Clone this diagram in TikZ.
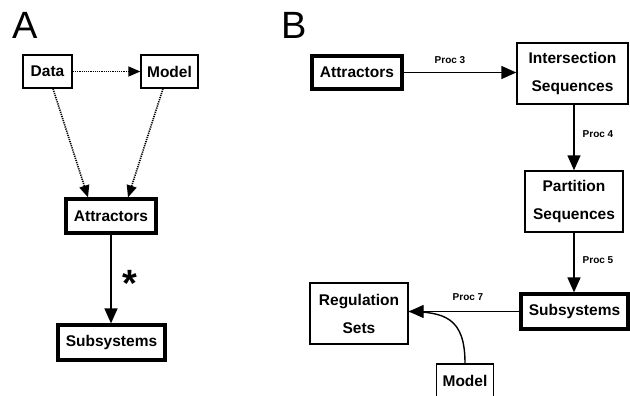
\documentclass[tikz,border=0pt]{standalone}
\usepackage{fontspec}
\setmainfont{Liberation Sans}
\usetikzlibrary{arrows.meta}
\tikzset{
  box/.style={draw, line width=1.4pt, inner sep=0pt, align=center,
    font=\fontsize{15.5}{28}\selectfont\bfseries},
  thickbox/.style={box, line width=3.2pt},
  arr/.style={line width=1.4pt, -{Triangle[length=15pt,width=13pt]}},
  dotarr/.style={line width=1.6pt, dash pattern=on 1.2pt off 1pt, -{Triangle[length=12pt,width=10pt]}},
  proc/.style={font=\fontsize{10}{12}\selectfont\bfseries, inner sep=0pt},
  panel/.style={font=\fontsize{38}{40}\selectfont, inner sep=0pt, anchor=base west}
}
\begin{document}
\begin{tikzpicture}[x=1pt,y=-1pt]
\useasboundingbox (0,0) rectangle (630,396);
% Panel A
\node[panel] (lA) at (12,39) {A};
\node[box, minimum width=49pt, minimum height=33pt] (data) at (47.5,71.5) {Data};
\node[box, minimum width=57pt, minimum height=33pt] (modelA) at (169.5,71.5) {Model};
\node[thickbox, minimum width=90pt, minimum height=34pt] (attrA) at (111,216) {Attractors};
\node[thickbox, minimum width=107pt, minimum height=35pt] (subA) at (111.5,342.5) {Subsystems};
\draw[dotarr] (data.east) -- (modelA.west);
\draw[dotarr] ([xshift=5.5pt]data.south) -- ([xshift=-23pt]attrA.north);
\draw[dotarr] ([xshift=-6.5pt]modelA.south) -- ([xshift=17pt]attrA.north);
\draw[arr] (attrA.south) -- (attrA.south |- subA.north);
\node[font=\fontsize{38}{40}\selectfont\bfseries, inner sep=0pt, anchor=base] (star) at (130,296) {*};
% Panel B
\node[panel] (lB) at (281,39) {B};
\node[thickbox, minimum width=90pt, minimum height=33pt] (attrB) at (357,72.5) {Attractors};
\node[box, minimum width=111pt, minimum height=61pt] (inter) at (572.5,73.5) {Intersection\\Sequences};
\node[box, minimum width=98pt, minimum height=61pt] (part) at (574,201.5) {Partition\\Sequences};
\node[thickbox, minimum width=107pt, minimum height=35pt] (subB) at (574.5,311.5) {Subsystems};
\node[box, minimum width=98pt, minimum height=61pt] (reg) at (359,313.5) {Regulation\\Sets};
\node[box, minimum width=57pt, minimum height=33pt] (modelB) at (465,380.5) {Model};
\draw[arr] (attrB.east) -- (attrB.east -| inter.west);
\draw[arr] (part.north |- inter.south) -- (part.north);
\draw[arr] (part.south) -- (part.south |- subB.north);
\coordinate (regin) at (reg.east |- subB.west);
\draw[arr] (subB.west) -- (regin);
\draw[line width=1.4pt] (modelB.north) .. controls (465,318) and (445,312) .. (regin);
\node[proc] (p3) at (450,60) {Proc 3};
\node[proc] (p4) at (598,134) {Proc 4};
\node[proc] (p5) at (598,260) {Proc 5};
\node[proc] (p7) at (468,297) {Proc 7};
\end{tikzpicture}
\end{document}
